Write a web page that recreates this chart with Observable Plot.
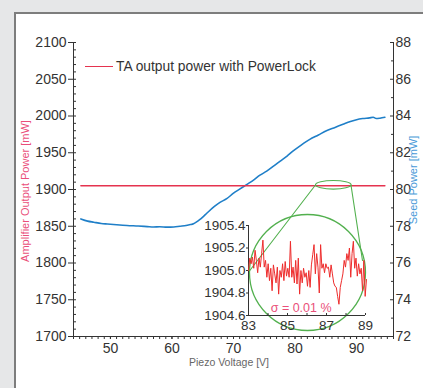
<!DOCTYPE html>
<html>
<head>
<meta charset="utf-8">
<script src="https://cdn.jsdelivr.net/npm/d3@7"></script>
<script src="https://cdn.jsdelivr.net/npm/@observablehq/plot@0.6"></script>
<style>
  html, body { margin: 0; padding: 0; width: 423px; height: 388px; overflow: hidden; background: #e6e7e8; font-family: "Liberation Sans", Arial, sans-serif; }
  #panel { position: absolute; left: 14px; top: 12px; width: 440px; height: 400px; background: #fff; border-left: 2px solid #7d7d7d; border-top: 2px solid #7d7d7d; }
  #main, #inset { position: absolute; }
  #main { left: 0; top: 0; }
  #inset { left: 200px; top: 205px; }
  .lbl { position: absolute; white-space: nowrap; font-family: "Liberation Sans", Arial, sans-serif; }
</style>
</head>
<body>
<div id="panel"></div>
<div id="main"></div>
<div id="inset"></div>
<div class="lbl" id="legend" style="left:85px; top:59px; font-size:13.8px; color:#333; line-height:16px;">
  <span style="display:inline-block; width:28px; height:0; border-top:1.5px solid #e5334f; vertical-align:middle; margin-right:3px; position:relative; top:-1px;"></span>TA output power with PowerLock
</div>
<div class="lbl" style="left:229px; top:362px; transform:translate(-50%,-50%); font-size:10.5px; color:#666;">Piezo Voltage [V]</div>
<div class="lbl" style="left:25px; top:191px; transform:translate(-50%,-50%) rotate(-90deg); font-size:11px; color:#ea4f7a;">Amplifier Output Power [mW]</div>
<div class="lbl" style="left:413px; top:180px; transform:translate(-50%,-50%) rotate(-90deg); font-size:11px; color:#4a9ad8;">Seed Power [mW]</div>
<script>
// ---- data ----
const redVoltage = [45.2, 55, 65, 75, 85, 94.6];
const redPower   = [1905, 1905, 1905, 1905, 1905, 1905];

const seedVoltage = [45.2, 46.3, 47.3, 48.5, 49.5, 51.0, 52.7, 54.5, 56.0, 57.0, 58.0, 59.2, 60.3, 61.3, 62.3, 63.0, 63.5, 64.0, 64.5, 65.0, 65.7, 66.8, 67.8, 68.9, 70.0, 71.0, 72.2, 73.2, 74.3, 75.4, 76.5, 77.6, 78.7, 79.7, 81.0, 82.4, 83.8, 85.1, 86.5, 87.8, 89.0, 90.0, 91.0, 92.1, 92.7, 93.2, 93.8, 94.6];
const seedPower   = [78.40, 78.28, 78.22, 78.15, 78.12, 78.08, 78.04, 78.01, 77.98, 77.96, 77.97, 77.95, 77.96, 78.00, 78.04, 78.09, 78.14, 78.24, 78.36, 78.50, 78.72, 79.05, 79.30, 79.50, 79.80, 80.02, 80.28, 80.50, 80.78, 81.00, 81.27, 81.55, 81.82, 82.10, 82.42, 82.73, 82.97, 83.20, 83.38, 83.55, 83.70, 83.80, 83.86, 83.90, 83.93, 83.86, 83.88, 83.93];

// inset: zoomed TA output power, 83 V .. 89 V
const insetStart = 83.0, insetEnd = 89.05;
const insetPower = [1905.00, 1905.11, 1905.06, 1905.12, 1905.02, 1905.18, 1905.09, 1904.98, 1905.11, 1905.03,
  1905.15, 1905.27, 1905.03, 1905.09, 1904.94, 1905.06, 1904.91, 1905.02, 1904.82, 1905.05,
  1904.97, 1904.89, 1905.03, 1904.79, 1905.00, 1904.94, 1905.06, 1904.91, 1905.08, 1904.95,
  1905.02, 1904.94, 1905.26, 1904.94, 1905.03, 1904.89, 1905.09, 1904.88, 1905.11, 1904.79,
  1905.00, 1904.89, 1905.02, 1904.94, 1904.98, 1904.86, 1905.00, 1904.85, 1905.05, 1905.14,
  1905.23, 1904.97, 1905.15, 1905.03, 1904.80, 1905.23, 1905.02, 1905.06, 1904.98, 1905.06,
  1905.02, 1905.03, 1904.94, 1905.05, 1904.97, 1904.89, 1904.86, 1904.85, 1904.77, 1904.70,
  1904.85, 1904.91, 1904.97, 1905.09, 1905.03, 1905.15, 1905.09, 1905.20, 1904.94, 1905.15,
  1905.26, 1905.02, 1905.11, 1904.95, 1905.06, 1904.97, 1905.02, 1904.82, 1905.09, 1904.77, 1904.92];

// axis ticks
const xMajor = [50, 60, 70, 80, 90];
const xMinor = d3.range(44, 97, 1);
const leftMajor = [1700, 1750, 1800, 1850, 1900, 1950, 2000, 2050, 2100];
const leftMinor = d3.range(1700, 2101, 10);
const rightMajor = [72, 74, 76, 78, 80, 82, 84, 86, 88];
const rightMinor = [73, 75, 77, 79, 81, 83, 85, 87];
const insetXMajor = [83, 85, 87, 89];
const insetXMinor = [83, 84, 85, 86, 87, 88, 89];
const insetYMajor = [1904.6, 1904.8, 1905.0, 1905.2, 1905.4];

// magnifier annotation (data coordinates of the main chart)
const circleCenter = [{x: 82.02, y: 1787.1}];
const ellipseCenter = [{x: 86.22, y: 1906.4}];
const connectorLeft = [{x: 83.32, y: 1906.1}, {x: 72.65, y: 1789.8}];
const connectorRight = [{x: 89.09, y: 1906.1}, {x: 90.96, y: 1803.4}];

// ---- helpers ----
const toLeft = s => 1700 + (s - 72) * 25;   // seed mW -> left-axis mW
const toRight = p => (p - 1700) / 25 + 72;
const RED = "#e5334f", BLUE = "#1f7fc8", GREEN = "#52b04e", INK = "#333";
const font = "Liberation Sans, Arial, sans-serif";

const redData = redVoltage.map((v, i) => ({v, p: redPower[i]}));
const seedData = seedVoltage.map((v, i) => ({v, s: seedPower[i]}));
const step = (insetEnd - insetStart) / (insetPower.length - 1);
const insetData = insetPower.map((p, i) => ({v: insetStart + i * step, p}));

const ellipseSymbol = {
  draw(ctx) {
    const rx = 17.8, ry = 4.3, k = 0.5523;
    ctx.moveTo(rx, 0);
    ctx.bezierCurveTo(rx, ry * k, rx * k, ry, 0, ry);
    ctx.bezierCurveTo(-rx * k, ry, -rx, ry * k, -rx, 0);
    ctx.bezierCurveTo(-rx, -ry * k, -rx * k, -ry, 0, -ry);
    ctx.bezierCurveTo(rx * k, -ry, rx, -ry * k, rx, 0);
    ctx.closePath();
  }
};

const main = Plot.plot({
  width: 423, height: 388,
  marginLeft: 73, marginRight: 30, marginTop: 42, marginBottom: 52,
  style: {background: "transparent", fontFamily: font, fontSize: "14px", color: INK, overflow: "visible"},
  x: {domain: [44, 96]},
  y: {domain: [1700, 2100]},
  marks: [
    Plot.axisY({anchor: "left", ticks: leftMajor, tickSize: 5, tickPadding: 2, tickFormat: d => String(d), fontSize: 14, label: null, stroke: INK}),
    Plot.axisY({anchor: "left", ticks: leftMinor, tickSize: -3, tickFormat: () => "", label: null, stroke: INK}),
    Plot.axisY({anchor: "right", ticks: rightMajor.map(toLeft), tickSize: -4, tickPadding: 6, tickFormat: d => String(Math.round(toRight(d))), fontSize: 14, label: null, stroke: INK}),
    Plot.axisY({anchor: "right", ticks: rightMinor.map(toLeft), tickSize: -3, tickFormat: () => "", label: null, stroke: INK}),
    Plot.axisX({ticks: xMajor, tickSize: 3, tickPadding: 4, tickFormat: d => String(d), fontSize: 14, label: null, stroke: INK}),
    Plot.axisX({ticks: xMinor, tickSize: 3, tickFormat: () => "", label: null, stroke: INK}),
    Plot.ruleX([44], {stroke: INK}),
    Plot.ruleX([96], {stroke: INK}),
    Plot.ruleY([1700], {stroke: INK}),
    Plot.line(seedData, {x: "v", y: d => toLeft(d.s), stroke: BLUE, strokeWidth: 1.6, curve: "monotone-x"}),
    Plot.line(redData, {x: "v", y: "p", stroke: RED, strokeWidth: 1.5}),
    Plot.line(connectorLeft, {x: "x", y: "y", stroke: GREEN, strokeWidth: 1.1}),
    Plot.line(connectorRight, {x: "x", y: "y", stroke: GREEN, strokeWidth: 1.1}),
    Plot.dot(ellipseCenter, {x: "x", y: "y", symbol: ellipseSymbol, r: 10, stroke: GREEN, strokeWidth: 1.1, fill: "none"}),
    Plot.dot(circleCenter, {x: "x", y: "y", r: 58, stroke: GREEN, strokeWidth: 1.3, fill: "none"})
  ]
});
document.getElementById("main").appendChild(main);

const inset = Plot.plot({
  width: 180, height: 135,
  marginLeft: 48, marginRight: 15, marginTop: 20, marginBottom: 25,
  style: {background: "transparent", fontFamily: font, fontSize: "13.5px", color: INK, overflow: "visible"},
  x: {domain: [83, 89]},
  y: {domain: [1904.6, 1905.4]},
  marks: [
    Plot.axisY({anchor: "left", ticks: insetYMajor, tickSize: 2, tickPadding: 1, tickFormat: d3.format(".1f"), fontSize: 13.5, label: null, stroke: INK}),
    Plot.axisX({ticks: insetXMajor, tickSize: 0, tickPadding: 5, tickFormat: d => String(d), fontSize: 13.5, label: null}),
    Plot.axisX({ticks: insetXMinor, tickSize: -2, tickFormat: () => "", label: null, stroke: INK}),
    Plot.ruleX([83], {stroke: INK}),
    Plot.ruleY([1904.6], {stroke: INK}),
    Plot.line(insetData, {x: "v", y: "p", stroke: "#ee2c2c", strokeWidth: 1}),
    Plot.text(["σ = 0.01 %"], {x: 85.7, y: 1904.67, text: d => d, fill: "#ea4f7a", fontSize: 12.5})
  ]
});
document.getElementById("inset").appendChild(inset);
</script>
</body>
</html>
